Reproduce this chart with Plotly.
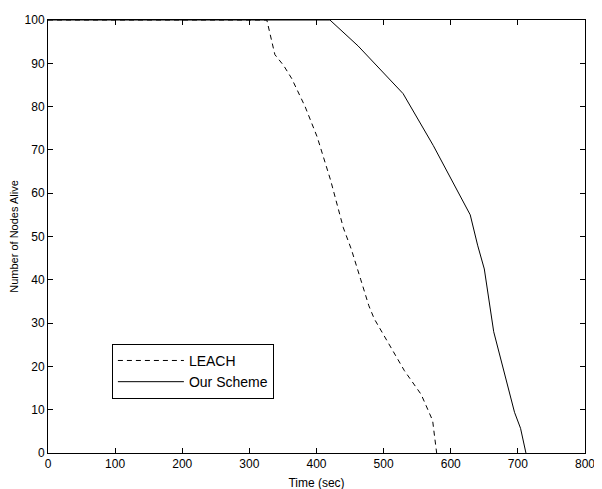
import plotly.graph_objects as go

# Data
leach_time = [0, 326, 338, 351, 363, 383, 401, 421, 440, 452, 466, 478, 486, 508, 531, 556, 565, 573, 576, 579]
leach_alive = [100, 100, 92, 89.5, 86.5, 80, 73, 63, 52, 47, 40, 34, 31, 25, 19, 13.5, 10.5, 7.5, 3.7, 0]

ours_time = [0, 420, 462, 529, 574, 629, 640, 650, 664, 680, 695, 704, 712]
ours_alive = [100, 100, 94, 83, 71, 55, 48, 42.5, 28, 18.6, 9.4, 5.7, 0]

x_ticks = [0, 100, 200, 300, 400, 500, 600, 700, 800]
y_ticks = [0, 10, 20, 30, 40, 50, 60, 70, 80, 90, 100]

FONT = "Liberation Sans, Arial, sans-serif"

fig = go.Figure()
fig.add_trace(go.Scatter(
    x=leach_time, y=leach_alive, mode="lines", name="LEACH",
    line=dict(color="black", width=1, dash="5px,4px"),
))
fig.add_trace(go.Scatter(
    x=ours_time, y=ours_alive, mode="lines", name="Our Scheme",
    line=dict(color="black", width=1),
))

axis_common = dict(
    showgrid=False, zeroline=False, automargin=False,
    showline=True, linecolor="black", linewidth=1, mirror="ticks",
    ticks="inside", ticklen=5, tickcolor="black", tickwidth=1,
    tickfont=dict(family=FONT, size=12, color="black"),
    ticklabeloverflow="allow",
)

fig.update_xaxes(
    range=[0, 800], tickvals=x_ticks, ticktext=[str(v) for v in x_ticks],
    title=dict(text="Time (sec)", font=dict(family=FONT, size=12, color="black"), standoff=8),
    **axis_common,
)
fig.update_yaxes(
    range=[0, 100], tickvals=y_ticks, ticktext=[str(v) for v in y_ticks],
    title=dict(text="Number of Nodes Alive", font=dict(family=FONT, size=11, color="black")),
    **axis_common,
)

# The page body adds an 8px offset; margins are set to compensate.
fig.update_layout(
    width=602, height=489,
    margin=dict(l=40, r=25, t=12, b=44),
    paper_bgcolor="white", plot_bgcolor="white",
    font=dict(family=FONT, color="black"),
    showlegend=True,
    legend=dict(
        x=0.119, y=0.252, xanchor="left", yanchor="top",
        bgcolor="white", bordercolor="black", borderwidth=1,
        font=dict(family=FONT, size=14, color="black"),
        itemwidth=66,
        tracegroupgap=0,
    ),
)

fig.write_html("out.html")
